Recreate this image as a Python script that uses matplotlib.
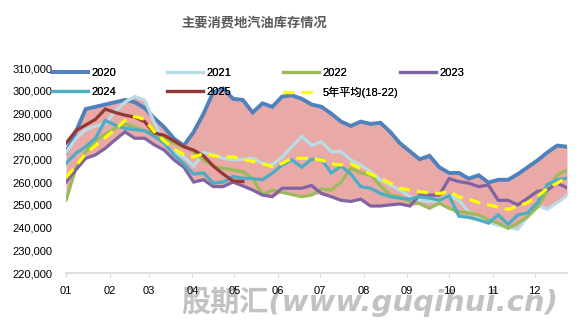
import numpy as np
import matplotlib
matplotlib.use('Agg')
import matplotlib.pyplot as plt
from matplotlib.ticker import FuncFormatter

plt.rcParams['font.family'] = ['Liberation Sans', 'Noto Sans CJK SC']

# 周度库存（千吨口径，绘图时乘以1000）
weeks = np.arange(52)
month_labels = ['01', '02', '03', '04', '05', '06', '07', '08', '09', '10', '11', '12']
month_days = [31, 28, 31, 30, 31, 30, 31, 31, 30, 31, 30, 31]

y2020 = [273, 282, 292, 293, 294, 295, 296, 295, 292.5, 288,
         284, 279, 276, 282, 290, 299.5, 301, 296.5, 296, 290.5,
         294.5, 293, 297.5, 298, 296.5, 294, 293, 290, 286.5, 284.6,
         286.5, 285.5, 286, 282, 277, 273.5, 270, 271.5, 266.5, 264,
         264, 261.5, 263, 259.8, 261, 261, 263.5, 266.5, 269.5, 273,
         276, 275.5]
y2021 = [273, 279, 283, 284.5, 285.5, 291, 295, 297.5, 296, 286,
         277, 272.7, 271, 267, 273, 272, 270.4, 269.7, 270, 270.4,
         268.2, 267.5, 271, 275.5, 280, 276, 277.7, 273.3, 273.3, 269.7,
         267.5, 264.5, 261, 258.7, 256.5, 253.6, 252, 251.4, 252, 254.3,
         252, 247, 244.8, 242.6, 241, 240.4, 239.3, 244.8, 250, 248,
         251, 254]
y2022 = [252, 266, 273.3, 278, 281, 283.5, 285.5, 284, 282.5, 281.5,
         279, 277, 275.5, 273.3, 269.7, 267, 266, 265.3, 264.6, 261.5,
         254.5, 256.5, 255.5, 254.5, 253.6, 254.3, 257, 256.5, 260, 266,
         264, 263, 258.5, 254.3, 253.6, 251.5, 250.5, 248.5, 250.7, 248.5,
         247, 246.5, 245.5, 243.5, 242, 239.7, 242, 244.8, 249, 256,
         263, 265.3]
y2023 = [260, 265.3, 270.4, 271.9, 274.8, 278.5, 282, 279.2, 279.2, 276.3,
         274, 269.7, 266.5, 260, 261, 258, 258, 260, 258.3, 256.5,
         254.3, 253.6, 257.3, 257.3, 257.3, 258.5, 255, 253.6, 252, 251.5,
         252.5, 249.5, 249.5, 250, 250.4, 249.5, 254.3, 254.3, 254.3, 261.5,
         260.2, 259.5, 258, 258.7, 252, 252, 250, 252.9, 256, 256.5,
         259.5, 257.5]
y2024 = [268.2, 272.6, 275.5, 279.2, 287, 285, 283.5, 283, 282.5, 280,
         277, 272, 268, 263.5, 264, 259.5, 260, 262.4, 261.7, 261.5,
         261, 263.9, 267.5, 269.7, 266.5, 270, 270, 264, 267, 263.5,
         258, 257.3, 255, 253.6, 252.9, 252.5, 253.6, 253, 252, 254,
         245, 244.5, 243.4, 242, 245.6, 241.5, 245.6, 246.5, 251, 259,
         261, 261.7]
y2025 = [277, 282.5, 285, 287.5, 292, 290.5, 289.3, 288.5, 286.5, 281.5,
         280.5, 278, 275.5, 274, 271.5, 267, 263.5, 260.5, 260.2]
avg_18_22 = [262, 267, 272.5, 276, 279.5, 283, 287, 288.7, 287.5, 282,
             278, 274.5, 272, 271, 272.5, 271.5, 271, 271, 270, 269,
             268, 266.8, 268.2, 270.4, 270.4, 270.3, 269.7, 268, 267.5, 268,
             266, 263.5, 261.7, 259.5, 257.3, 256.5, 255.8, 255.2, 255, 255.8,
             253.5, 252.5, 251, 250, 249, 248, 249.5, 251, 253.6, 257.3,
             259.5, 262]


def to_units(v, n=52):
    """千吨 -> 吨，不足一年的补 NaN"""
    arr = np.full(n, np.nan)
    arr[:len(v)] = np.array(v) * 1000
    return arr


fig = plt.figure(figsize=(5.81, 3.32), dpi=100)
ax = fig.add_axes([66 / 581, 1 - 273.3 / 332, 501 / 581, 205.3 / 332])
ax.patch.set_alpha(0)

# 2020-2024 区间带
hist = np.vstack([to_units(y) for y in (y2020, y2021, y2022, y2023, y2024)])
ax.fill_between(weeks, hist.min(axis=0), hist.max(axis=0),
                color='#e9a9a7', lw=0, zorder=1)

series = [
    ('2020', y2020, '#4f81bd', 2.8, '-'),
    ('2021', y2021, '#b7dde8', 2.3, '-'),
    ('2022', y2022, '#9bbb59', 2.3, '-'),
    ('2023', y2023, '#8064a2', 2.3, '-'),
    ('2024', y2024, '#4bacc6', 2.3, '-'),
    ('2025', y2025, '#953735', 2.3, '-'),
    ('5年平均(18-22)', avg_18_22, '#ffff00', 2.3, '--'),
]

lines = []
for label, vals, color, lw, ls in series:
    line, = ax.plot(weeks, to_units(vals), color=color, lw=lw, ls=ls,
                    solid_joinstyle='miter', zorder=2)
    if ls == '--':
        line.set_dashes((3.5, 2.2))
    lines.append((line, label))

# 坐标轴
month_pos = np.concatenate([[0], np.cumsum(month_days)[:-1]]) / 7
ax.set_xlim(0, 51)
ax.set_ylim(220000, 310000)
ax.set_xticks(month_pos)
ax.set_xticklabels(month_labels)
ax.set_yticks(np.arange(220000, 310001, 10000))
ax.yaxis.set_major_formatter(FuncFormatter(lambda v, p: f'{v:,.0f}'))
ax.tick_params(axis='x', length=3, color='#d9d9d9', pad=6, labelsize=8, labelcolor='#000000')
ax.tick_params(axis='y', length=0, pad=10, labelsize=8, labelcolor='#000000')
for side in ('top', 'right', 'left'):
    ax.spines[side].set_visible(False)
ax.spines['bottom'].set_color('#d9d9d9')
ax.spines['bottom'].set_linewidth(1.2)

# 图例：两行四列，等宽排布
col_x = [52, 167, 283, 400]
row_y = [73, 92]
for i, (line, label) in enumerate(lines):
    leg = fig.legend([line], [label], loc='center left',
                     bbox_to_anchor=(col_x[i % 4] / 581, 1 - row_y[i // 4] / 332),
                     frameon=False, fontsize=8, handlelength=3.2, handletextpad=0.35,
                     borderpad=0, borderaxespad=0)
    fig.add_artist(leg)

fig.text(254 / 581, 1 - 23 / 332, '主要消费地汽油库存情况', ha='center', va='center',
         fontsize=9.5, fontweight='bold', color='#595959')

fig.text(370 / 581, 1 - 302 / 332, '股期汇(www.guqihui.cn)', ha='center', va='center',
         fontsize=21, fontweight='bold', fontstyle='italic', color='#c2c2c2',
         family=['DejaVu Sans', 'Noto Sans CJK SC'], zorder=-1)

fig.savefig('out.png', dpi=100)
